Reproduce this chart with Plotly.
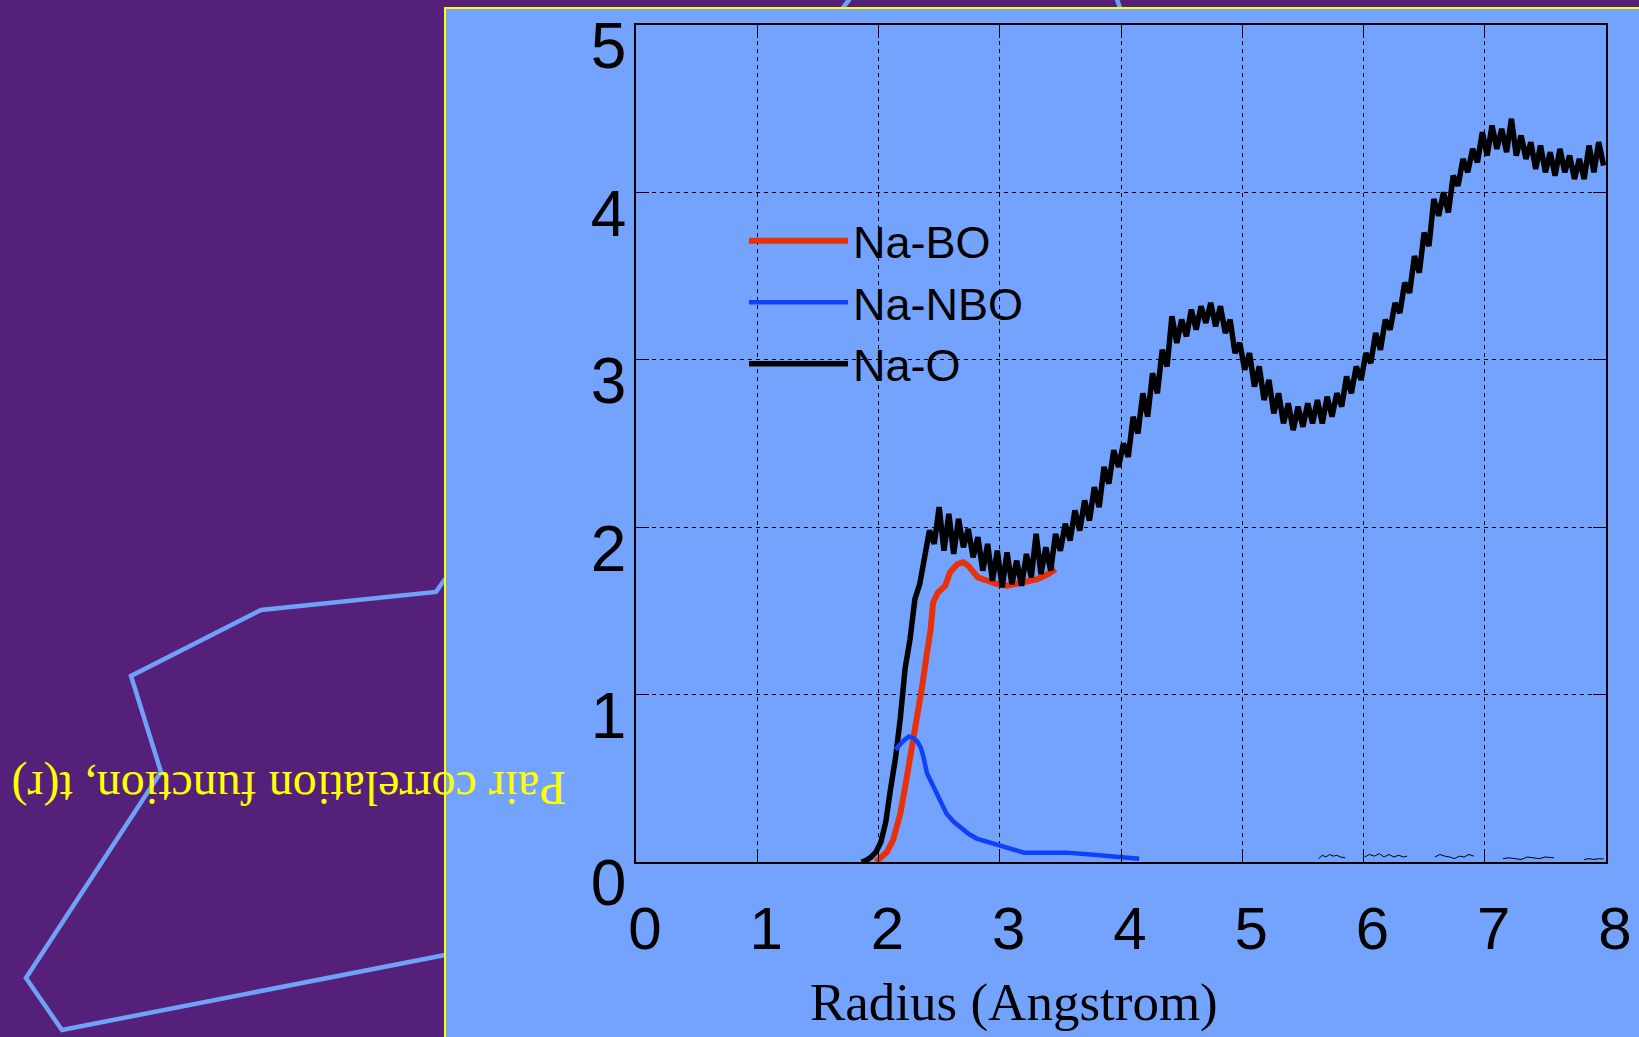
import plotly.graph_objects as go

# ---------------- data ----------------
x_ticks = [0, 1, 2, 3, 4, 5, 6, 7, 8]
y_ticks = [0, 1, 2, 3, 4, 5]

# Na-O total pair correlation, sampled every 0.04 A starting at 1.86 A
na_o_start = 1.86
na_o_step = 0.04
na_o_t = [
    0.00, 0.01, 0.03, 0.06, 0.12, 0.24, 0.44, 0.62, 0.86, 1.16,
    1.33, 1.57, 1.66, 1.82, 1.98, 1.90, 2.12, 1.86, 2.08, 1.84,
    2.05, 1.88, 1.99, 1.82, 1.94, 1.74, 1.90, 1.68, 1.86, 1.64,
    1.85, 1.66, 1.80, 1.65, 1.84, 1.70, 1.96, 1.72, 1.88, 1.74,
    1.96, 1.86, 2.02, 1.92, 2.10, 1.98, 2.16, 2.04, 2.24, 2.12,
    2.36, 2.26, 2.46, 2.36, 2.50, 2.42, 2.66, 2.56, 2.80, 2.66,
    2.92, 2.80, 3.06, 2.96, 3.26, 3.10, 3.24, 3.14, 3.30, 3.18,
    3.32, 3.22, 3.34, 3.20, 3.32, 3.16, 3.24, 3.04, 3.10, 2.94,
    3.04, 2.84, 2.96, 2.76, 2.88, 2.68, 2.80, 2.62, 2.74, 2.58,
    2.72, 2.60, 2.74, 2.62, 2.76, 2.62, 2.78, 2.66, 2.80, 2.72,
    2.90, 2.80, 2.96, 2.88, 3.04, 2.98, 3.16, 3.06, 3.24, 3.18,
    3.34, 3.28, 3.46, 3.40, 3.62, 3.52, 3.76, 3.68, 3.96, 3.86,
    4.00, 3.88, 4.10, 4.04, 4.20, 4.12, 4.26, 4.18, 4.36, 4.22,
    4.40, 4.26, 4.38, 4.24, 4.44, 4.22, 4.34, 4.20, 4.30, 4.14,
    4.28, 4.12, 4.24, 4.10, 4.26, 4.12, 4.22, 4.08, 4.20, 4.08,
    4.28, 4.12, 4.30, 4.16,
]
na_o_r = [round(na_o_start + na_o_step * i, 2) for i in range(len(na_o_t))]

na_bo_r = [1.98, 2.03, 2.07, 2.12, 2.18, 2.22, 2.26, 2.29, 2.33, 2.36, 2.40,
           2.43, 2.45, 2.49, 2.55, 2.59, 2.65, 2.70, 2.74, 2.78, 2.82, 2.90,
           2.98, 3.06, 3.14, 3.22, 3.31, 3.40, 3.46]
na_bo_t = [0.00, 0.03, 0.06, 0.13, 0.29, 0.45, 0.61, 0.77, 0.93, 1.05, 1.25,
           1.39, 1.55, 1.61, 1.65, 1.73, 1.78, 1.79, 1.77, 1.74, 1.70, 1.68,
           1.66, 1.65, 1.66, 1.67, 1.69, 1.72, 1.75]

na_nbo_r = [2.14, 2.20, 2.25, 2.29, 2.32, 2.35, 2.37, 2.40, 2.44, 2.48, 2.52,
            2.56, 2.62, 2.67, 2.74, 2.81, 2.90, 3.00, 3.10, 3.20, 3.35, 3.55,
            3.75, 3.91, 4.05, 4.15]
na_nbo_t = [0.67, 0.72, 0.75, 0.74, 0.72, 0.68, 0.63, 0.53, 0.47, 0.41, 0.35,
            0.29, 0.24, 0.21, 0.17, 0.14, 0.12, 0.10, 0.075, 0.056, 0.056, 0.056,
            0.045, 0.035, 0.025, 0.02]

# tiny residual traces near zero at large r
resid_r = [5.63, 5.66, 5.69, 5.72, 5.75, 5.78, 5.81, 5.85, None,
           6.01, 6.05, 6.09, 6.13, 6.17, 6.21, 6.25, 6.29, 6.33, 6.36, None,
           6.59, 6.63, 6.67, 6.71, 6.75, 6.79, 6.83, 6.87, 6.91, None,
           7.15, 7.20, 7.25, 7.30, 7.35, 7.40, 7.45, 7.50, 7.57, None,
           7.82, 7.86, 7.90, 7.94, 7.98]
resid_t = [0.02, 0.04, 0.03, 0.045, 0.035, 0.04, 0.03, 0.025, None,
           0.03, 0.045, 0.035, 0.05, 0.03, 0.045, 0.03, 0.04, 0.03, 0.035, None,
           0.03, 0.045, 0.035, 0.03, 0.02, 0.035, 0.03, 0.045, 0.035, None,
           0.02, 0.025, 0.02, 0.015, 0.03, 0.025, 0.02, 0.03, 0.025, None,
           0.015, 0.02, 0.015, 0.02, 0.018]

# ---------------- layout helpers (pixel -> paper) ----------------
W, H = 1639, 1037
ML, MR, MT, MB = 636, 33, 25, 175
PW, PH = W - ML - MR, H - MT - MB


def px(x):
    return (x - ML) / PW


def py(y):
    return (H - MB - y) / PH


PURPLE = "#54207A"
PANEL = "#74A3FD"
DECOR = "#6FA2F6"
RED = "#E8300A"
BLUE = "#1040F8"
YELLOW = "#FFFF00"

fig = go.Figure()
fig.add_trace(go.Scatter(x=na_bo_r, y=na_bo_t, mode="lines", name="Na-BO",
                         line=dict(color=RED, width=6), legendrank=1))
fig.add_trace(go.Scatter(x=na_o_r, y=na_o_t, mode="lines", name="Na-O",
                         line=dict(color="black", width=5.5), legendrank=3))
fig.add_trace(go.Scatter(x=na_nbo_r, y=na_nbo_t, mode="lines", name="Na-NBO",
                         line=dict(color=BLUE, width=4.5), legendrank=2))
fig.add_trace(go.Scatter(x=resid_r, y=resid_t, mode="lines", showlegend=False,
                         line=dict(color="black", width=1), connectgaps=False))

# decorative outline on the left and the light-blue panel
poly_pts = [(445, 579), (436, 592), (261, 610), (131, 676), (161, 772),
            (26, 978), (62, 1030), (445, 955)]
path = "M " + " L ".join(f"{px(a):.4f},{py(b):.4f}" for a, b in poly_pts)
path += f" M {px(852):.4f},{py(-4):.4f} L {px(838):.4f},{py(14):.4f}"
path += f" M {px(1116):.4f},{py(-4):.4f} L {px(1122):.4f},{py(14):.4f}"

shapes = [
    dict(type="path", xref="paper", yref="paper", path=path, layer="below",
         line=dict(color=DECOR, width=4.5)),
    dict(type="rect", xref="paper", yref="paper", layer="below",
         x0=px(445), x1=px(1660), y0=py(1060), y1=py(8),
         fillcolor=PANEL, line=dict(color=YELLOW, width=2)),
]

annotations = [
    dict(text="Pair correlation function, t(r)", xref="paper", yref="paper",
         x=px(289.5), y=py(788), xanchor="center", yanchor="middle",
         textangle=180, showarrow=False,
         font=dict(family="Liberation Serif", size=48, color=YELLOW)),
    dict(text="Radius (Angstrom)", xref="paper", yref="paper",
         x=px(1014), y=py(1003), xanchor="center", yanchor="middle",
         showarrow=False,
         font=dict(family="Liberation Serif", size=53, color="black")),
]

axis_common = dict(showline=True, linecolor="black", linewidth=1.5, mirror="ticks",
                   ticks="inside", ticklen=13, tickwidth=1, tickcolor="black",
                   showgrid=True, gridcolor="black", gridwidth=1, griddash="4px,4px",
                   zeroline=False, automargin=False)

fig.update_layout(
    width=W, height=H,
    margin=dict(l=ML, r=MR, t=MT, b=MB, pad=0, autoexpand=False),
    paper_bgcolor=PURPLE,
    plot_bgcolor="rgba(0,0,0,0)",
    shapes=shapes,
    annotations=annotations,
    showlegend=True,
    legend=dict(x=px(744), y=py(205), xanchor="left", yanchor="top",
                bgcolor="rgba(0,0,0,0)", borderwidth=0, itemwidth=99,
                traceorder="normal",
                font=dict(family="Liberation Sans", size=45, color="black")),
    xaxis=dict(range=[0, 8], tickvals=x_ticks, ticktext=[str(v) for v in x_ticks],
               tickfont=dict(family="Liberation Sans", size=60, color="black"),
               ticklabelshift=9, ticklabelstandoff=13, **axis_common),
    yaxis=dict(range=[0, 5], tickvals=y_ticks, ticktext=[str(v) for v in y_ticks],
               tickfont=dict(family="Liberation Sans", size=64, color="black"),
               ticklabelshift=21, ticklabelstandoff=-5, **axis_common),
)

fig.write_html("out.html")
